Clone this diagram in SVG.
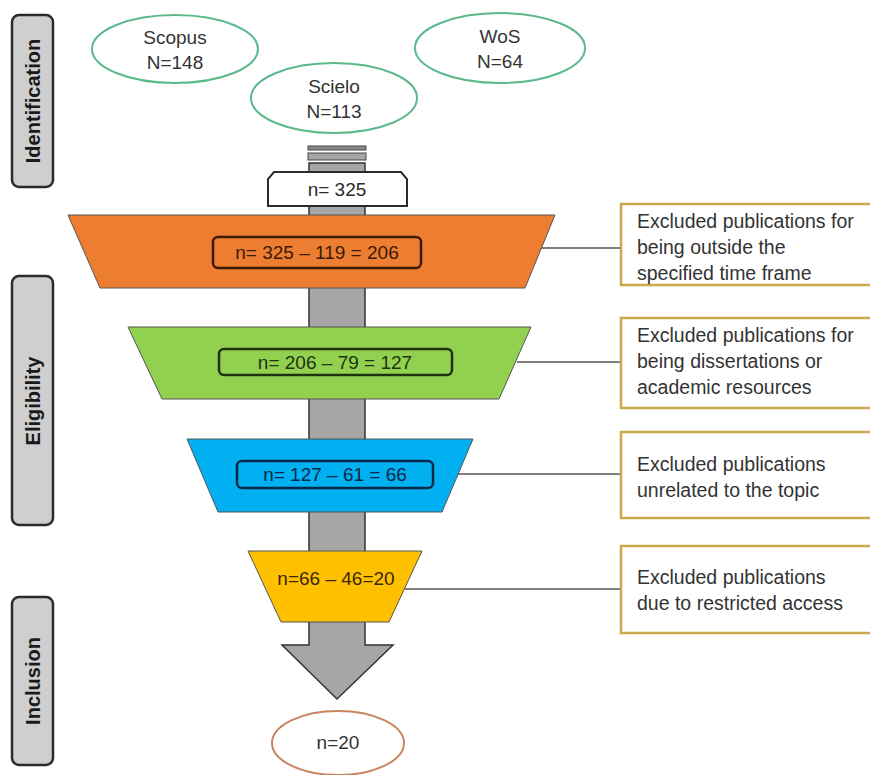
<svg xmlns="http://www.w3.org/2000/svg" width="870" height="775" viewBox="0 0 870 775">
<style>
text{font-family:"Liberation Sans",Arial,sans-serif;}
.side rect{fill:#cfcfcf;stroke:#2b2b2b;stroke-width:2.5;}
.side text{font-size:20px;font-weight:bold;fill:#1a1a1a;text-anchor:middle;}
.src ellipse{fill:#fff;stroke:#5bb98b;stroke-width:2;}
.src text{font-size:19px;fill:#333;text-anchor:middle;}
.box rect{fill:#fff;stroke:#c9a94a;stroke-width:2.5;}
.box text{font-size:19.5px;fill:#333;}
.conn line{stroke:#555;stroke-width:1.5;}
.trap path{stroke:#555;stroke-width:1;}
.inner{fill:none;stroke-width:2.5;}
.lbl{font-size:19px;text-anchor:middle;}
</style>
<rect width="870" height="775" fill="#fff"/>

<g id="side-identification" class="side"><rect x="12" y="15" width="41" height="172" rx="7"/><text transform="translate(40,101) rotate(-90)">Identification</text></g>
<g id="side-eligibility" class="side"><rect x="12" y="276" width="41" height="249" rx="7"/><text transform="translate(40,401) rotate(-90)">Eligibility</text></g>
<g id="side-inclusion" class="side"><rect x="12" y="597" width="41" height="168" rx="7"/><text transform="translate(40,681) rotate(-90)">Inclusion</text></g>

<g id="src-scopus" class="src"><ellipse cx="175" cy="49" rx="83" ry="34"/><text x="175" y="44">Scopus</text><text x="175" y="69">N=148</text></g>
<g id="src-wos" class="src"><ellipse cx="500" cy="48" rx="85" ry="35"/><text x="500" y="43">WoS</text><text x="500" y="68">N=64</text></g>
<g id="src-scielo" class="src"><ellipse cx="334" cy="98" rx="83" ry="35"/><text x="334" y="93">Scielo</text><text x="334" y="118">N=113</text></g>

<g id="stem">
<rect x="308" y="146" width="58" height="4" fill="#8a8a8a" stroke="#444" stroke-width="1"/>
<rect x="308" y="153" width="58" height="7" fill="#a6a6a6" stroke="#444" stroke-width="1"/>
<path d="M309,163 H365 V645 H393 L337,699 L282,645 H309 Z" fill="#a6a6a6" stroke="#333" stroke-width="1.5"/>
</g>

<g id="total-325"><path d="M268,206 V179 L274,172 H401 L407,179 V206 Z" fill="#fff" stroke="#2b2b2b" stroke-width="2"/><text x="337" y="196" class="lbl" fill="#2b2b2b">n= 325</text></g>

<g class="conn" id="connectors">
<line x1="540" y1="248" x2="621" y2="248"/>
<line x1="517" y1="362" x2="621" y2="362"/>
<line x1="458" y1="474" x2="621" y2="474"/>
<line x1="405" y1="589" x2="621" y2="589"/>
</g>

<g id="stage-orange" class="trap"><path d="M68,215 H555 L525,288 H100 Z" fill="#ed7d31"/><rect class="inner" x="213" y="237" width="208" height="31" rx="5" stroke="#3b1a08"/><text x="317" y="259" class="lbl" fill="#3b1a08">n= 325 – 119 = 206</text></g>
<g id="stage-green" class="trap"><path d="M128,327 H531 L499,399 H162 Z" fill="#92d050"/><rect class="inner" x="219" y="349" width="233" height="26" rx="5" stroke="#1e3410"/><text x="335" y="369" class="lbl" fill="#1e3410">n= 206 – 79 = 127</text></g>
<g id="stage-blue" class="trap"><path d="M187,439 H473 L442,512 H218 Z" fill="#00b0f0"/><rect class="inner" x="237" y="461" width="196" height="27" rx="5" stroke="#0c2a48"/><text x="335" y="481" class="lbl" fill="#0c2a48">n= 127 – 61 = 66</text></g>
<g id="stage-yellow" class="trap"><path d="M248,551 H422 L389,622 H281 Z" fill="#ffc000"/><text x="336" y="585" class="lbl" fill="#3b2a08">n=66 – 46=20</text></g>

<g id="final"><ellipse cx="338" cy="743" rx="66" ry="32" fill="#fff" stroke="#c98560" stroke-width="2"/><text x="338" y="749" class="lbl" fill="#333">n=20</text></g>

<g id="excl-1" class="box"><rect x="621" y="204" width="260" height="81"/><text x="637" y="228">Excluded publications for</text><text x="637" y="254">being outside the</text><text x="637" y="280">specified time frame</text></g>
<g id="excl-2" class="box"><rect x="621" y="318" width="260" height="90"/><text x="637" y="342">Excluded publications for</text><text x="637" y="368">being dissertations or</text><text x="637" y="394">academic resources</text></g>
<g id="excl-3" class="box"><rect x="621" y="432" width="260" height="86"/><text x="637" y="471">Excluded publications</text><text x="637" y="497">unrelated to the topic</text></g>
<g id="excl-4" class="box"><rect x="621" y="546" width="260" height="87"/><text x="637" y="584">Excluded publications</text><text x="637" y="610">due to restricted access</text></g>
</svg>
